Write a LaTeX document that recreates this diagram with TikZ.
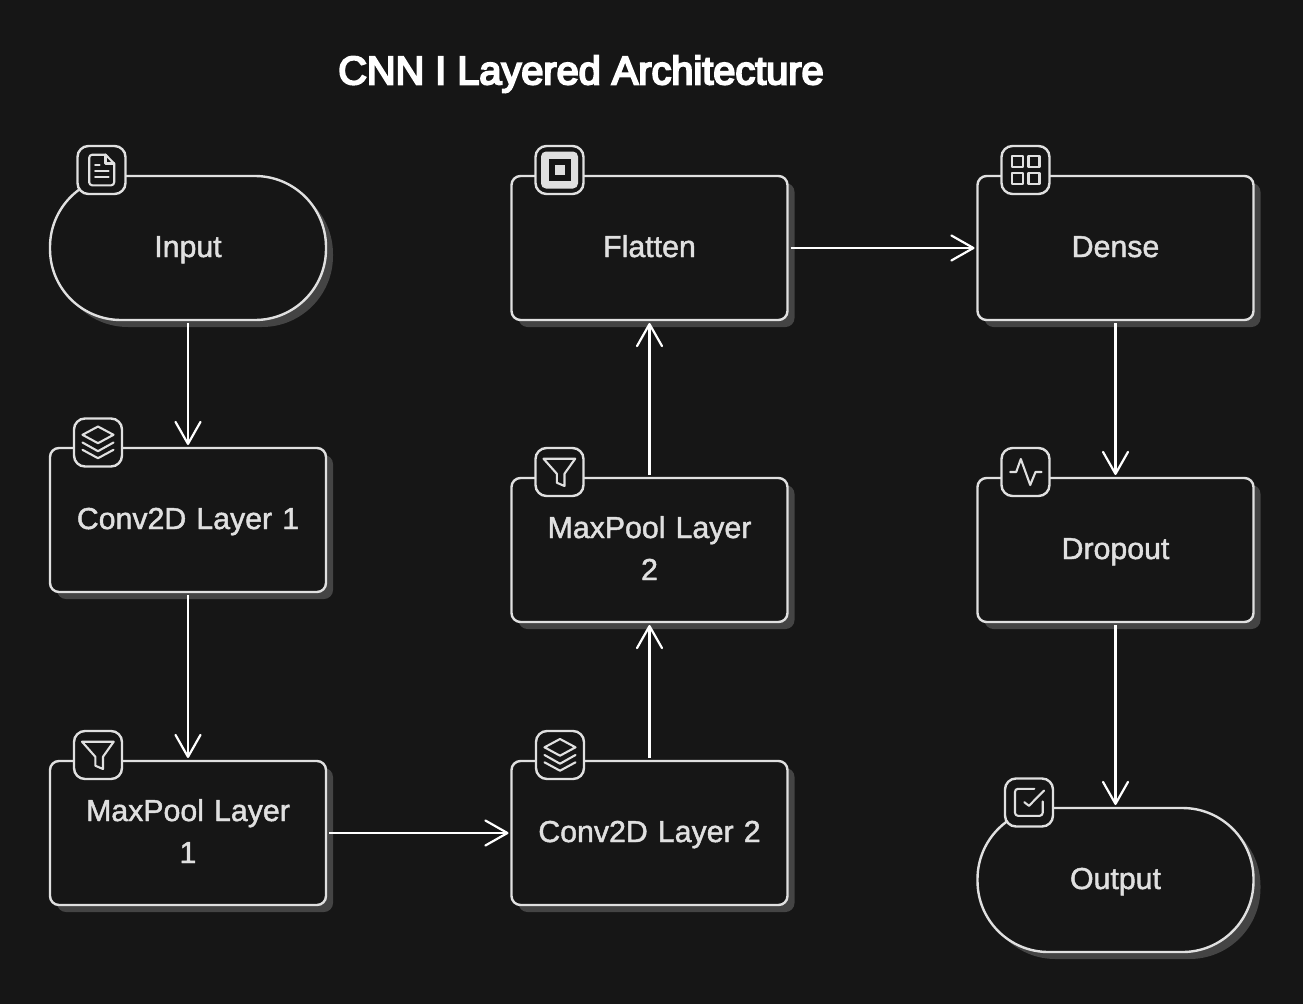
\documentclass[tikz,border=0pt]{standalone}
\usepackage{fontspec}
\setmainfont{Liberation Sans}[WordSpace=0.85]
\newfontface\titlefont{Liberation Sans}[FakeBold=5]
\newfontface\labelfont{Liberation Sans}[WordSpace=0.85,FakeBold=1.5]
\usetikzlibrary{arrows.meta,shadows}
\definecolor{bgc}{HTML}{161616}
\definecolor{linec}{HTML}{E0E0E0}
\definecolor{shadc}{HTML}{444444}
\newcommand\lblstrut{\rule[-12pt]{0pt}{42pt}}
\tikzset{
  x=1pt,y=-1pt,
  blockbase/.style={draw=linec,line width=2.4pt,fill=bgc,text=linec,
    minimum width=276pt,minimum height=144pt,inner sep=0pt,outer sep=3pt,
    text width=250pt,align=center,font=\fontsize{30.3}{42}\selectfont\labelfont,
    general shadow={fill=shadc,shadow xshift=7pt,shadow yshift=-7pt}},
  procbox/.style={blockbase,rounded corners=9pt},
  termbox/.style={blockbase,rounded corners=71pt},
  iconbg/.style={draw=linec,line width=2.4pt,fill=bgc,minimum size=48pt,inner sep=0pt,rounded corners=11pt},
  icon/.style={draw=linec,line width=2.1pt,line join=round,line cap=round},
  conn/.style={draw=white,line width=2.2pt,-{Straight Barb[length=22pt,width=25pt,line width=2.2pt,round]}},
}
\newcommand\iconbox[3]{%
  \node[iconbg] (#1) at (#2) {};
  \begin{scope}[shift={(#2)}]#3\end{scope}}
\newcommand\layersicon{%
  \draw[icon] (0,-16) -- (15.5,-7.7) -- (0,0.7) -- (-15.5,-7.7) -- cycle;
  \draw[icon] (-15.5,0) -- (0,8.7) -- (15.5,0);
  \draw[icon] (-15.5,7.3) -- (0,15.7) -- (15.5,7.3);}
\newcommand\funnelicon{%
  \draw[icon] (-16,-13.3) -- (15.7,-13.3) -- (5,1.7) -- (5,14) -- (-2.7,10.7) -- (-2.7,1.7) -- cycle;}
\begin{document}
\begin{tikzpicture}
\fill[bgc] (0,0) rectangle (1303,1004);
\useasboundingbox (0,0) rectangle (1303,1004);
\node[text=white,font=\fontsize{39.7}{48}\selectfont\titlefont,inner sep=0pt] (title) at (581,74) {CNN I Layered Architecture};

\node[termbox] (input) at (188,248) {\lblstrut Input};
\node[procbox] (conva) at (188,520) {\lblstrut Conv2D Layer 1};
\node[procbox] (poola) at (188,833) {\lblstrut MaxPool Layer\\\lblstrut 1};
\node[procbox] (convb) at (649.5,833) {\lblstrut Conv2D Layer 2};
\node[procbox] (poolb) at (649.5,550) {\lblstrut MaxPool Layer\\\lblstrut 2};
\node[procbox] (flat) at (649.5,248) {\lblstrut Flatten};
\node[procbox] (dense) at (1115.5,248) {\lblstrut Dense};
\node[procbox] (drop) at (1115.5,550) {\lblstrut Dropout};
\node[termbox] (output) at (1115.5,880) {\lblstrut Output};

\draw[conn] (input) -- (conva);
\draw[conn] (conva) -- (poola);
\draw[conn] (poola) -- (convb);
\draw[conn] (convb) -- (poolb);
\draw[conn] (poolb) -- (flat);
\draw[conn] (flat) -- (dense);
\draw[conn] (dense) -- (drop);
\draw[conn] (drop) -- (output);

\iconbox{icinput}{101.5,170}{%
  \draw[icon,rounded corners=3pt] (4,-15.3) -- (-12.3,-15.3) -- (-12.3,15.3) -- (12.7,15.3) -- (12.7,-6.5);
  \draw[icon] (4,-15.3) -- (12.7,-6.5);
  \draw[icon] (4,-15.3) -- (4,-6.5) -- (12.7,-6.5);
  \draw[icon] (-6.3,-4.7) -- (-2,-4.7);
  \draw[icon] (-6.3,1) -- (7,1);
  \draw[icon] (-6.3,7) -- (7,7);}
\iconbox{icconva}{98,442.5}{\layersicon}
\iconbox{icpoola}{98,755}{\funnelicon}
\iconbox{icconvb}{560,755}{\layersicon}
\iconbox{icpoolb}{559.5,472}{\funnelicon}
\iconbox{icflat}{559.5,170}{%
  \fill[linec,rounded corners=5pt] (-18.5,-18.5) rectangle (18.5,18.5);
  \fill[bgc] (-11,-11) rectangle (11,11);
  \fill[linec] (-5,-5) rectangle (5,5);}
\iconbox{icdense}{1025.5,170}{%
  \draw[icon] (-13.7,-13.7) rectangle (-2.7,-3);
  \draw[icon] (3,-13.7) rectangle (14,-3);
  \draw[icon] (-13.7,2.7) rectangle (-2.7,13.7);
  \draw[icon] (3,2.7) rectangle (14,13.7);}
\iconbox{icdrop}{1025.5,472}{%
  \draw[icon] (-15.3,0) -- (-9.3,0) -- (-4.7,-13) -- (4.7,13) -- (10,0) -- (16,0);}
\iconbox{icoutput}{1029,802.5}{%
  \draw[icon,rounded corners=3pt] (5.3,-13.7) -- (-14,-13.7) -- (-14,13.3) -- (13.7,13.3) -- (13.7,-1);
  \draw[icon] (-4.7,-0.3) -- (0,3.3) -- (15,-12);}
\end{tikzpicture}
\end{document}
